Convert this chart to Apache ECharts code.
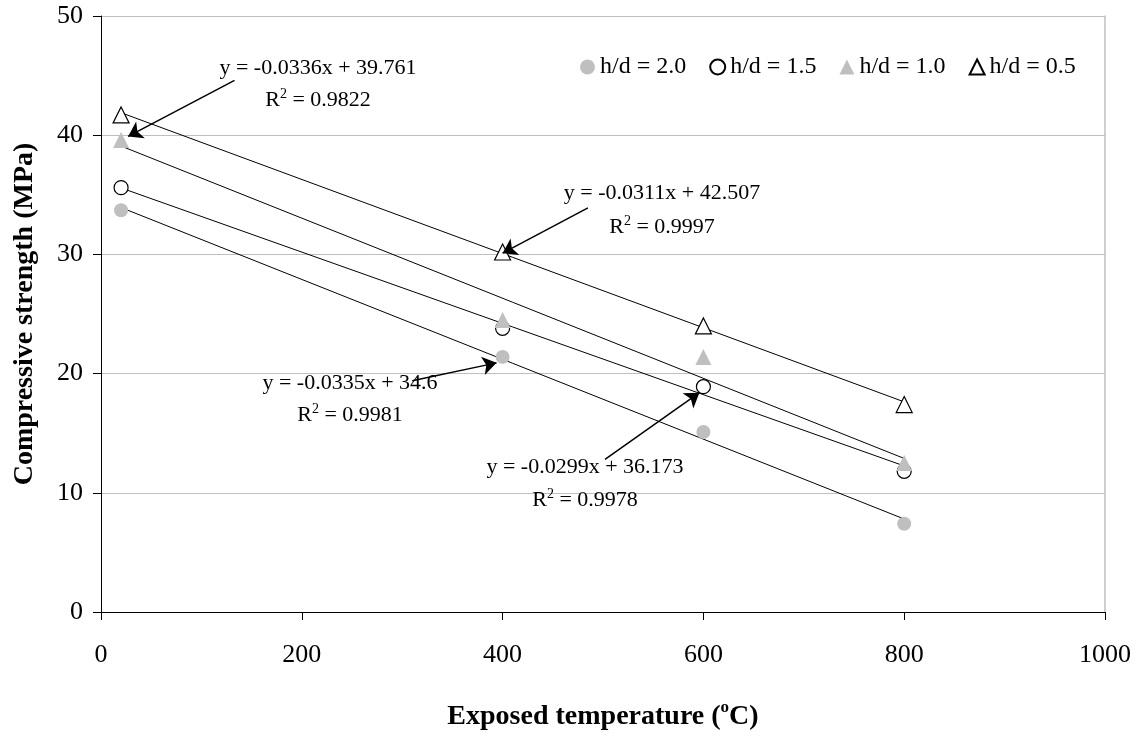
<!DOCTYPE html>
<html>
<head>
<meta charset="utf-8">
<script src="https://cdn.jsdelivr.net/npm/echarts@6/dist/echarts.min.js"></script>
<style>html,body{margin:0;padding:0;background:#fff}#c{width:1140px;height:736px}</style>
</head>
<body>
<div id="c"></div>
<script>
const temps = [20, 400, 600, 800];
const seriesNames = ['h/d = 2.0', 'h/d = 1.5', 'h/d = 1.0', 'h/d = 0.5'];
const hd20 = [33.7, 21.4, 15.1, 7.4];
const hd15 = [35.6, 23.8, 18.9, 11.8];
const hd10 = [39.6, 24.5, 21.4, 12.5];
const hd05 = [41.7, 30.2, 24.0, 17.4];
const slopes = [-0.0335, -0.0299, -0.0336, -0.0311];
const intercepts = [34.6, 36.173, 39.761, 42.507];
const r2s = ['0.9981', '0.9978', '0.9822', '0.9997'];
const trendRange = [20, 800];
const xTicks = [0, 200, 400, 600, 800, 1000];
const yTicks = [0, 10, 20, 30, 40, 50];
// arrows (start -> end) in data coordinates, one per trendline label
const arrowStarts = [[310, 19.4], [502, 12.8], [133, 44.6], [485, 33.9]];
const arrowEnds = [[394, 20.9], [596, 18.4], [27, 39.9], [400, 30.1]];

const FONT = '"Liberation Serif", "Times New Roman", serif';
const GREY = '#bfbfbf';
const chart = echarts.init(document.getElementById('c'));

const values = [hd20, hd15, hd10, hd05];
const symbols = ['circle', 'circle', 'triangle', 'triangle'];
const fills = [GREY, '#fff', GREY, '#fff'];
const borders = [GREY, '#000', GREY, '#000'];
const sizes = [14, 14, 16, 16];

const series = [];
slopes.forEach((m, i) => {
  series.push({
    type: 'line', name: 'trend' + i, silent: true, symbol: 'none', z: 1,
    lineStyle: {color: '#000', width: 1},
    data: trendRange.map(x => [x, m * x + intercepts[i]]),
    markLine: {
      silent: true, symbol: ['none', 'arrow'], symbolSize: 14, precision: 4,
      lineStyle: {color: '#000', width: 1.5, type: 'solid'},
      itemStyle: {color: '#000'},
      label: {show: false},
      emphasis: {disabled: true},
      data: [[{coord: arrowStarts[i]}, {coord: arrowEnds[i]}]]
    }
  });
});
values.forEach((v, i) => {
  series.push({
    type: 'scatter', name: seriesNames[i], symbol: symbols[i], symbolSize: sizes[i], z: 3,
    itemStyle: {color: fills[i], borderColor: borders[i], borderWidth: i % 2 ? 1.2 : 0, opacity: 1},
    data: temps.map((t, j) => [t, v[j]])
  });
});

// label positions (pixel centres) for eq. lines
const labelPos = [[350, 383, 415], [585, 467, 500], [318, 68, 100], [662, 193, 227]];
const graphics = [];
slopes.forEach((m, i) => {
  const p = labelPos[i];
  graphics.push({
    type: 'text', z: 10,
    style: {text: 'y = ' + m + 'x + ' + intercepts[i], x: p[0], y: p[1], align: 'center', verticalAlign: 'middle',
      font: '22px ' + FONT, fill: '#000'}
  });
  graphics.push({
    type: 'text', z: 10,
    style: {text: '{n|R}{s|2}{n| = ' + r2s[i] + '}', x: p[0], y: p[2], align: 'center', verticalAlign: 'middle',
      rich: {n: {fontSize: 22, fontFamily: FONT, lineHeight: 26, fill: '#000'},
             s: {fontSize: 14, fontFamily: FONT, lineHeight: 14, verticalAlign: 'top', fill: '#000'}}}
  });
});

chart.setOption({
  animation: false,
  backgroundColor: '#fff',
  grid: {left: 101, right: 35, top: 16, bottom: 123, containLabel: false},
  legend: {
    data: seriesNames, left: 575, top: 50, itemWidth: 15, itemHeight: 15, itemGap: 23,
    textStyle: {fontFamily: FONT, fontSize: 24, color: '#000'}
  },
  xAxis: {
    type: 'value', min: 0, max: 1000, interval: 200,
    name: '{b|Exposed temperature (}{s|o}{b|C)}', nameLocation: 'middle', nameGap: 87,
    nameTextStyle: {rich: {b: {fontFamily: FONT, fontSize: 28, fontWeight: 'bold', color: '#000', lineHeight: 36},
      s: {fontFamily: FONT, fontSize: 17, fontWeight: 'bold', color: '#000', lineHeight: 12, verticalAlign: 'top'}}},
    axisLine: {lineStyle: {color: '#000', width: 1}},
    axisTick: {show: true, length: 8, lineStyle: {color: '#000'}},
    axisLabel: {margin: 30, fontFamily: FONT, fontSize: 26, color: '#000',
      formatter: v => xTicks.includes(v) ? String(v) : ''},
    splitLine: {show: false}
  },
  yAxis: [{
    type: 'value', min: 0, max: 50, interval: 10,
    name: 'Compressive strength (MPa)', nameLocation: 'middle', nameGap: 62,
    nameTextStyle: {fontFamily: FONT, fontSize: 28, fontWeight: 'bold', color: '#000'},
    axisLine: {show: true, lineStyle: {color: '#000', width: 1}},
    axisTick: {show: true, length: 8, lineStyle: {color: '#000'}},
    axisLabel: {margin: 18, fontFamily: FONT, fontSize: 26, color: '#000',
      formatter: v => yTicks.includes(v) ? String(v) : ''},
    splitLine: {show: true, lineStyle: {color: GREY, width: 1}}
  }, {
    type: 'value', min: 0, max: 50, interval: 10, position: 'right',
    axisLine: {show: true, lineStyle: {color: GREY, width: 1.5}},
    axisTick: {show: false}, axisLabel: {show: false}, splitLine: {show: false}
  }],
  graphic: graphics,
  series: series
});
</script>
</body>
</html>
